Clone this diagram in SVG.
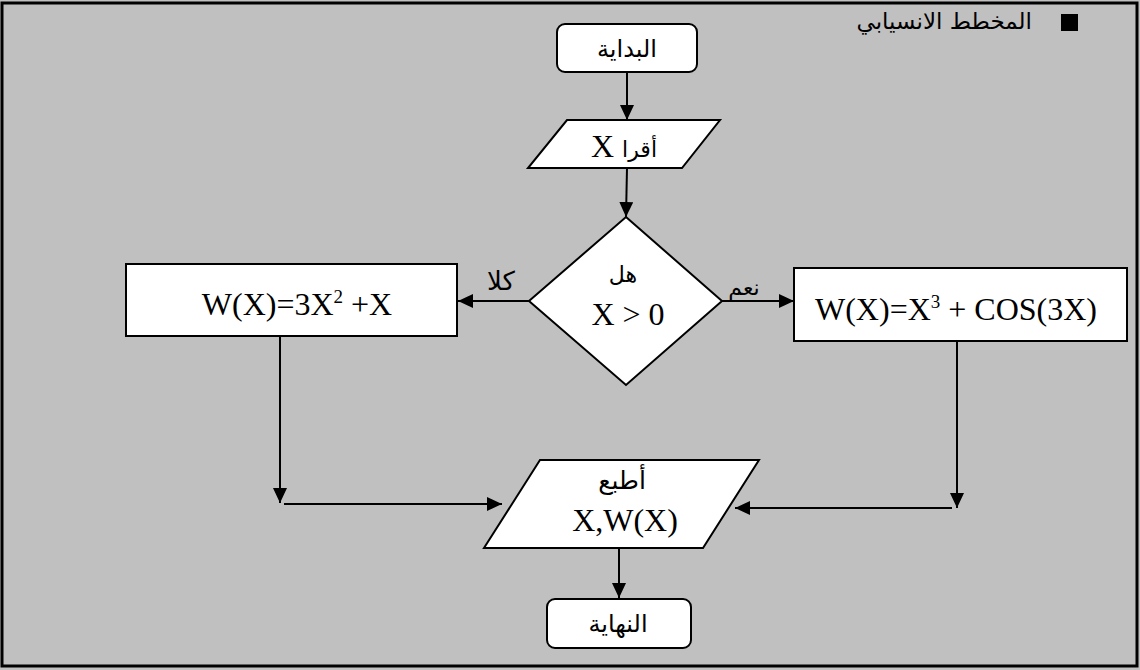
<svg xmlns="http://www.w3.org/2000/svg" width="1140" height="670" viewBox="0 0 1140 670">
<style>
.shape{fill:#fff;stroke:#000;stroke-width:2}
.ar{font-family:"DejaVu Sans",sans-serif;fill:#000}
.math{font-family:"Liberation Serif","DejaVu Sans",serif;fill:#000}
.conn line{stroke:#000;stroke-width:2}
</style>
<defs>
<marker id="ah" markerUnits="userSpaceOnUse" markerWidth="15" markerHeight="14" refX="15" refY="7" orient="auto" viewBox="0 0 15 14">
<path d="M0,0 L15,7 L0,14 Z" fill="#000"/>
</marker>
</defs>
<rect x="0" y="0" width="1140" height="670" fill="#c0c0c0"/>
<rect x="2" y="3" width="1135" height="663" fill="none" stroke="#000" stroke-width="3"/>

<g id="title">
<rect x="1061" y="14" width="17" height="17" fill="#000"/>
<text class="ar" x="1032" y="29" font-size="23" text-anchor="end">المخطط الانسيابي</text>
</g>

<g id="start">
<rect class="shape" x="557" y="24" width="140" height="48" rx="8"/>
<text class="ar" x="627" y="57" font-size="24" text-anchor="middle">البداية</text>
</g>

<g id="read">
<polygon class="shape" points="567,120 720,120 682,168 528,168"/>
<text x="624" y="157" text-anchor="middle" direction="rtl"><tspan class="ar" font-size="22">أقرا</tspan><tspan class="math" font-size="32"> X</tspan></text>
</g>

<g id="decision">
<polygon class="shape" points="626,217 722,301 626,385 529,301"/>
<text class="ar" x="623" y="282" font-size="22" text-anchor="middle">هل</text>
<text class="math" x="628" y="325" font-size="32" text-anchor="middle">X &gt; 0</text>
</g>

<g id="left-process">
<rect class="shape" x="126" y="264" width="331" height="72"/>
<text class="math" x="297" y="315" font-size="32" text-anchor="middle">W(X)=3X<tspan font-size="19" dy="-12">2</tspan><tspan dy="12"> +X</tspan></text>
</g>

<g id="right-process">
<rect class="shape" x="794" y="268" width="333" height="73"/>
<text class="math" x="956" y="320" font-size="32" text-anchor="middle">W(X)=X<tspan font-size="19" dy="-12">3</tspan><tspan dy="12"> + COS(3X)</tspan></text>
</g>

<g id="print">
<polygon class="shape" points="540,460 759,460 703,548 484,548"/>
<text class="ar" x="622" y="489" font-size="25" text-anchor="middle">أطبع</text>
<text class="math" x="625" y="531" font-size="32" text-anchor="middle">X,W(X)</text>
</g>

<g id="end">
<rect class="shape" x="547" y="599" width="144" height="49" rx="8"/>
<text class="ar" x="618" y="632" font-size="24" text-anchor="middle">النهاية</text>
</g>

<g id="connectors" class="conn">
<line x1="627" y1="72" x2="627" y2="120" marker-end="url(#ah)"/>
<line x1="627" y1="168" x2="626" y2="217" marker-end="url(#ah)"/>
<line x1="529" y1="301" x2="458" y2="301" marker-end="url(#ah)"/>
<line x1="722" y1="301" x2="794" y2="301" marker-end="url(#ah)"/>
<line x1="280" y1="336" x2="280" y2="503" marker-end="url(#ah)"/>
<line x1="284" y1="504" x2="502" y2="504" marker-end="url(#ah)"/>
<line x1="957" y1="341" x2="957" y2="508" marker-end="url(#ah)"/>
<line x1="952" y1="508" x2="735" y2="508" marker-end="url(#ah)"/>
<line x1="619" y1="548" x2="619" y2="598" marker-end="url(#ah)"/>
<text class="ar" x="501" y="290" font-size="26" text-anchor="middle">كلا</text>
<text class="ar" x="744" y="295" font-size="22" text-anchor="middle">نعم</text>
</g>
</svg>
